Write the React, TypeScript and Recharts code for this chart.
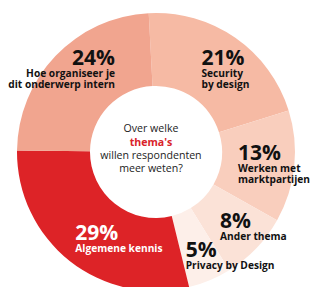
import React from 'react';
import { PieChart, Pie, Cell, Label } from 'recharts';

const categories = ['Security by design', 'Werken met marktpartijen', 'Ander thema', 'Privacy by Design', 'Algemene kennis', 'Hoe organiseer je dit onderwerp intern'];
const values = [21, 13, 8, 5, 29, 24];
const labelLines = [
  ['Security', 'by design'],
  ['Werken met', 'marktpartijen'],
  ['Ander thema'],
  ['Privacy by Design'],
  ['Algemene kennis'],
  ['Hoe organiseer je', 'dit onderwerp intern'],
];
const centerLines = ['Over welke', "thema's", 'willen respondenten', 'meer weten?'];

const colors = ['#f6baa4', '#f9cebd', '#fbe2d7', '#fdefe9', '#dd2327', '#f1a58f'];
const textColors = ['#111', '#111', '#111', '#111', '#fff', '#111'];
// label layout: offset from mid-radius point, anchor
const labelLayout = [
  { dx: -13, dy: -3, anchor: 'start' },
  { dx: -20, dy: -3, anchor: 'start' },
  { dx: -10, dy: 5, anchor: 'start' },
  { dx: -10, dy: 11, anchor: 'start' },
  { dx: -17, dy: 8, anchor: 'start' },
  { dx: 33, dy: -16, anchor: 'end' },
];

const CX = 151;
const CY = 147;
const data = categories.map((c, i) => ({ name: c, value: values[i] }));
const RAD = Math.PI / 180;
const FONT = "'Open Sans', sans-serif";

const renderLabel = (props: any) => {
  const { cx, cy, midAngle, innerRadius, outerRadius, index } = props;
  const r = (innerRadius + outerRadius) / 2;
  const x = cx + r * Math.cos(-midAngle * RAD);
  const y = cy + r * Math.sin(-midAngle * RAD);
  const L = labelLayout[index];
  const tx = x + L.dx;
  const ty = y + L.dy;
  const fill = textColors[index];
  return (
    <g key={`lbl-${index}`}>
      <text x={tx} y={ty} textAnchor={L.anchor as any} fill={fill} fontFamily={FONT} fontWeight={700} fontSize={21}>
        {values[index]}%
      </text>
      {labelLines[index].map((t, j) => (
        <text key={j} x={tx} y={ty + 12 + j * 11} textAnchor={L.anchor as any} fill={fill} fontFamily={FONT} fontWeight={700} fontSize={10.2}>
          {t}
        </text>
      ))}
    </g>
  );
};

const renderCenter = () => {
  return (
    <g>
      <text x={CX} y={CY - 15} textAnchor="middle" fontFamily={FONT} fontSize={10.6} fill="#222">{centerLines[0]}</text>
      <text x={CX} y={CY - 1} textAnchor="middle" fontFamily={FONT} fontSize={10.6} fill="#d9232a" fontWeight={700}>{centerLines[1]}</text>
      <text x={CX} y={CY + 12} textAnchor="middle" fontFamily={FONT} fontSize={10.6} fill="#222">{centerLines[2]}</text>
      <text x={CX} y={CY + 25} textAnchor="middle" fontFamily={FONT} fontSize={10.6} fill="#222">{centerLines[3]}</text>
    </g>
  );
};

export default function App() {
  return (
    <div style={{ position: 'absolute', left: 0, top: 0, width: 313, height: 287, background: '#fff' }}>
      <PieChart width={313} height={287}>
        <Pie
          data={data}
          dataKey="value"
          cx={CX}
          cy={CY}
          innerRadius={66}
          outerRadius={139}
          startAngle={93}
          endAngle={-267}
          stroke="none"
          isAnimationActive={false}
          label={renderLabel}
          labelLine={false}
        >
          {data.map((d, i) => (
            <Cell key={d.name} fill={colors[i]} />
          ))}
          <Label position="center" content={renderCenter} />
        </Pie>
      </PieChart>
    </div>
  );
}
